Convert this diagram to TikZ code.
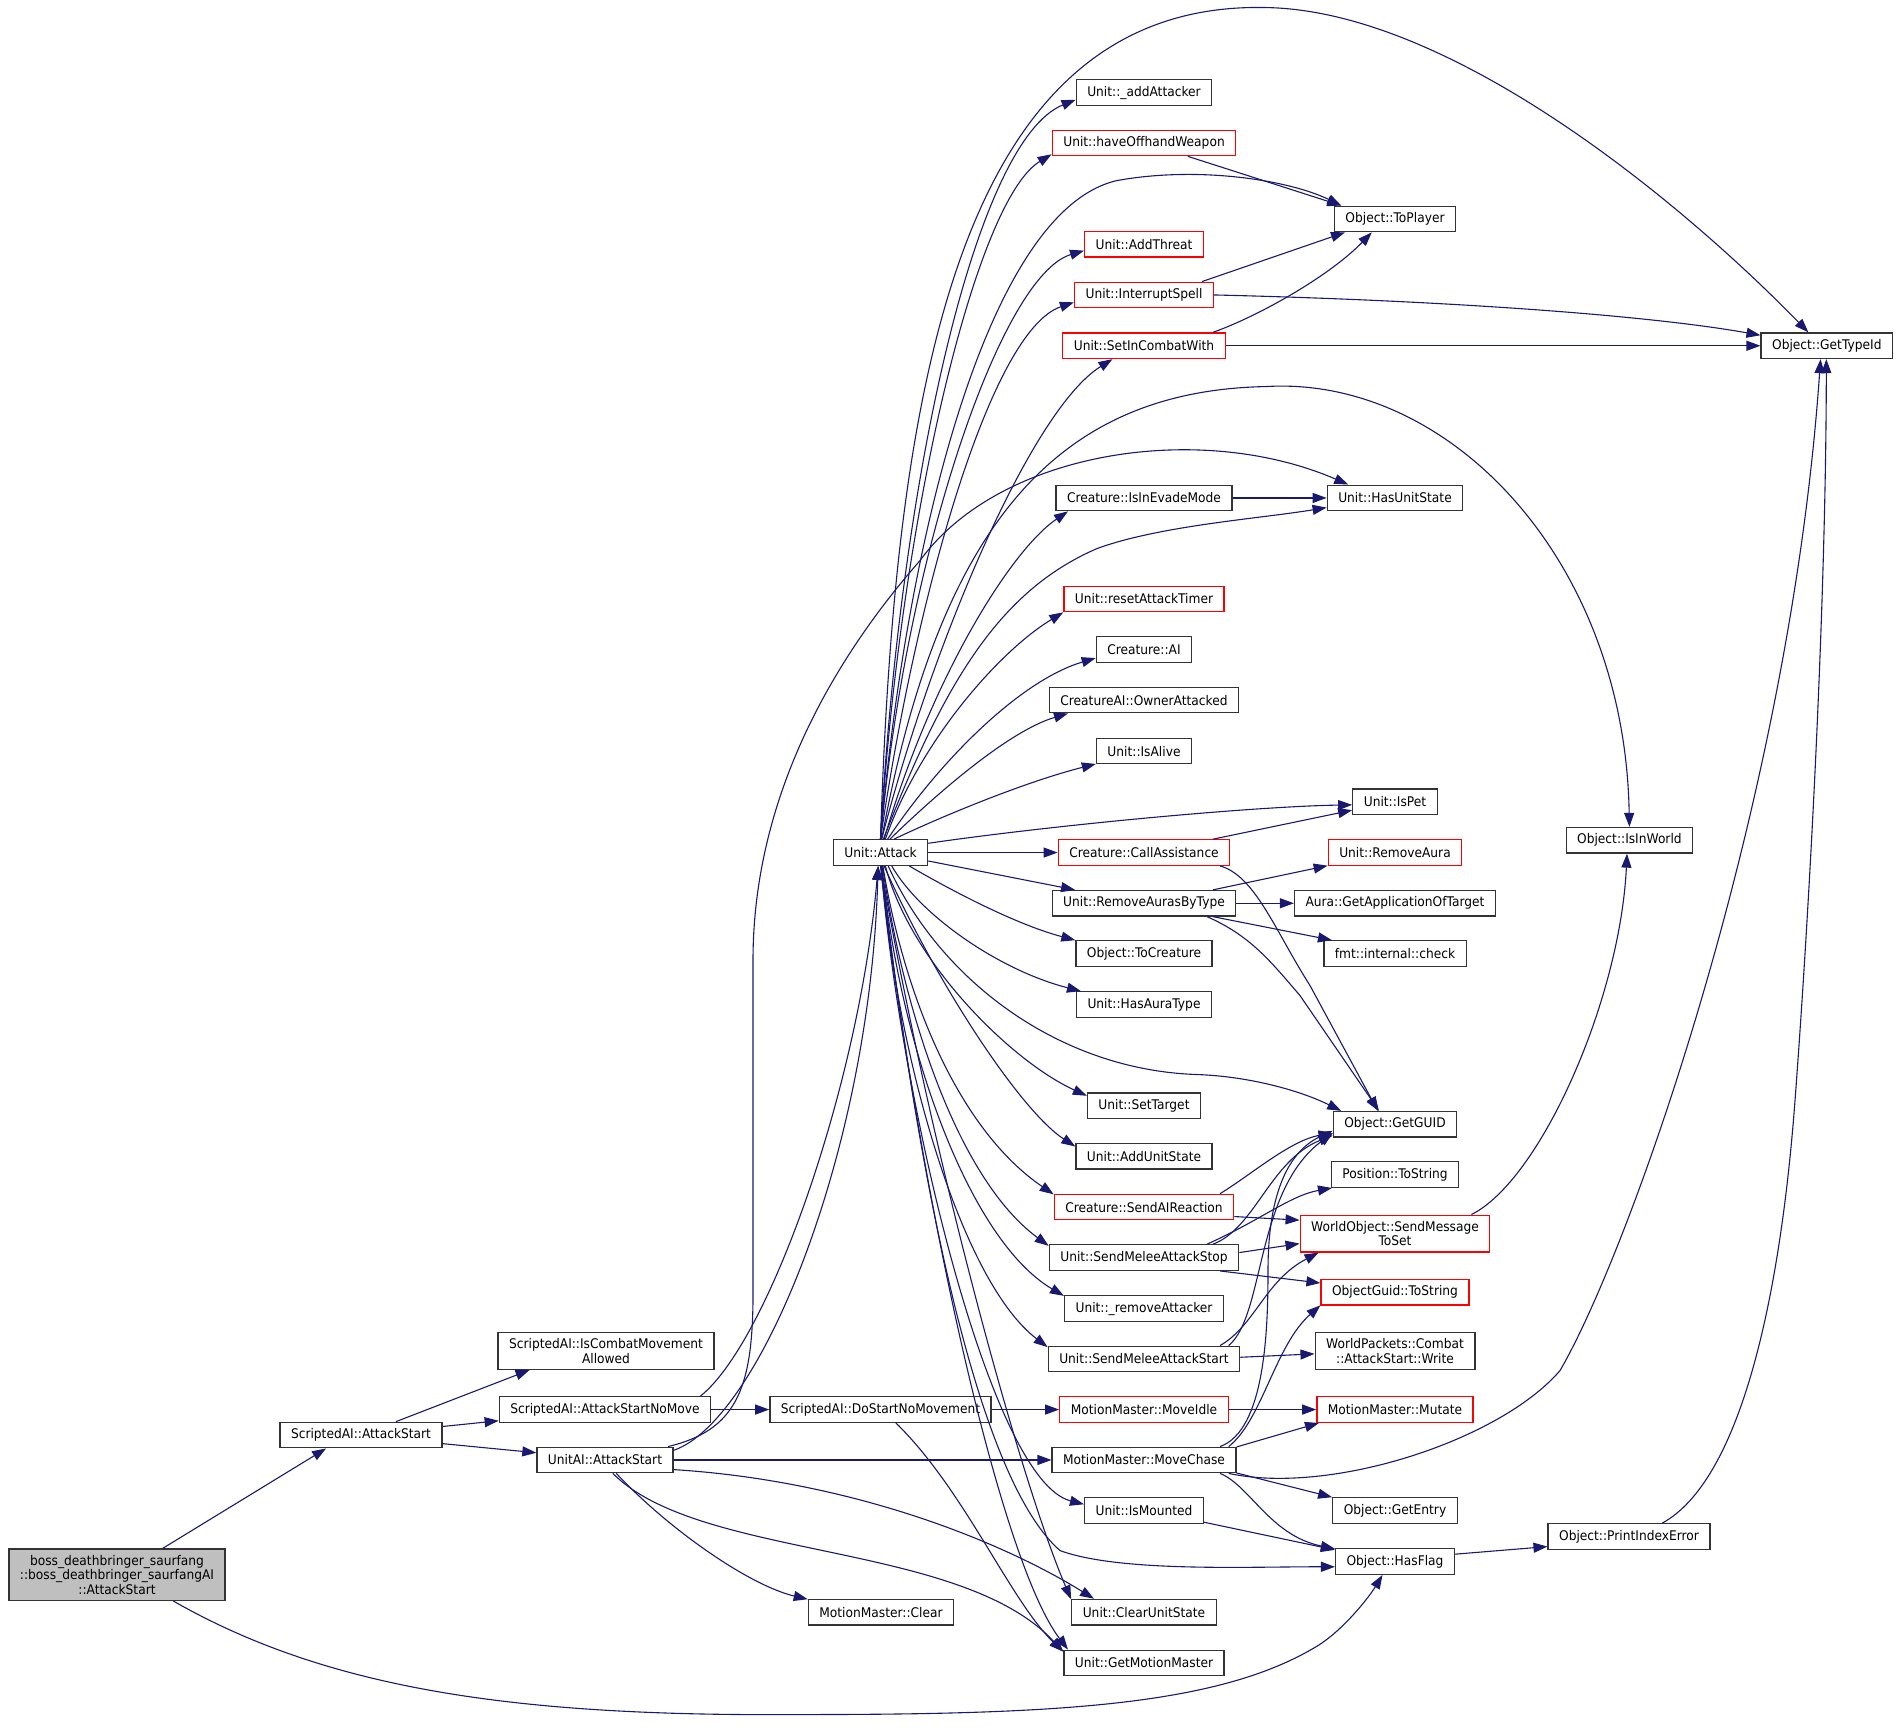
\documentclass[tikz,border=0pt]{standalone}
\usepackage{fontspec}
\setmainfont{DejaVu Sans}[FakeStretch=0.92]
\usepackage{tikz}
\usetikzlibrary{arrows.meta,positioning,calc}
\definecolor{edgeblue}{HTML}{191970}
\definecolor{rootgray}{HTML}{BFBFBF}

\begin{document}
\begin{tikzpicture}[x=1pt,y=-1pt,
    >={Triangle[length=14pt,width=10pt]},
    fnbox/.style={draw=black!80, line width=1.3pt, rectangle, inner xsep=11pt, inner ysep=6pt,
      minimum height=25.5pt, align=center, font=\fontsize{13.3}{14.5}\selectfont},
    fnred/.style={fnbox, draw=red},
    fnroot/.style={fnbox, fill=rootgray},
    calls/.style={->, draw=edgeblue, line width=1.1pt}]
    \fill[white] (0,0) rectangle (1899,1729);
    % callers on the left
    \node[fnroot] (root) at (117,1574.2) {boss\_deathbringer\_saurfang\\::boss\_deathbringer\_saurfangAI\\::AttackStart};
    \node[fnbox] (sAS) at (361,1434.5) {ScriptedAI::AttackStart};
    \node[fnbox] (sICM) at (606,1350.4) {ScriptedAI::IsCombatMovement\\Allowed};
    \node[fnbox] (sASNM) at (605,1409) {ScriptedAI::AttackStartNoMove};
    \node[fnbox] (uAS) at (605,1459.4) {UnitAI::AttackStart};
    \node[fnbox] (atk) at (880.5,852) {Unit::Attack};
    \node[fnbox] (dsnm) at (880.5,1409) {ScriptedAI::DoStartNoMovement};
    \node[fnbox] (mmClr) at (881,1611.6) {MotionMaster::Clear};
    % middle column
    \node[fnbox] (addAtt) at (1144,92) {Unit::\_addAttacker};
    \node[fnred] (offhand) at (1144,142.4) {Unit::haveOffhandWeapon};
    \node[fnred] (threat) at (1144,243.8) {Unit::AddThreat};
    \node[fnred] (intSp) at (1144,294.4) {Unit::InterruptSpell};
    \node[fnred] (combat) at (1144,345.2) {Unit::SetInCombatWith};
    \node[fnbox] (evade) at (1144,497.4) {Creature::IsInEvadeMode};
    \node[fnred] (resetAT) at (1144,598.4) {Unit::resetAttackTimer};
    \node[fnbox] (creAI) at (1144,649) {Creature::AI};
    \node[fnbox] (owner) at (1144,699.5) {CreatureAI::OwnerAttacked};
    \node[fnbox] (alive) at (1144,750.5) {Unit::IsAlive};
    \node[fnred] (callAs) at (1144,852) {Creature::CallAssistance};
    \node[fnbox] (remABT) at (1144,902.7) {Unit::RemoveAurasByType};
    \node[fnbox] (toCre) at (1144,953) {Object::ToCreature};
    \node[fnbox] (hasAura) at (1144,1004) {Unit::HasAuraType};
    \node[fnbox] (setTgt) at (1144,1105.3) {Unit::SetTarget};
    \node[fnbox] (addUS) at (1144,1155.6) {Unit::AddUnitState};
    \node[fnred] (aiReact) at (1144,1206.5) {Creature::SendAIReaction};
    \node[fnbox] (mStop) at (1144,1257) {Unit::SendMeleeAttackStop};
    \node[fnbox] (remAtt) at (1144,1308) {Unit::\_removeAttacker};
    \node[fnbox] (mStart) at (1144,1358.4) {Unit::SendMeleeAttackStart};
    \node[fnred] (mvIdle) at (1144,1409) {MotionMaster::MoveIdle};
    \node[fnbox] (mvChase) at (1144,1459.4) {MotionMaster::MoveChase};
    \node[fnbox] (mounted) at (1144,1510) {Unit::IsMounted};
    \node[fnbox] (clrUS) at (1144,1611.6) {Unit::ClearUnitState};
    \node[fnbox] (getMM) at (1144,1662.4) {Unit::GetMotionMaster};
    % right columns
    \node[fnbox] (toPl) at (1395,218.4) {Object::ToPlayer};
    \node[fnbox] (hasUS) at (1395,497.4) {Unit::HasUnitState};
    \node[fnbox] (isPet) at (1395,801.3) {Unit::IsPet};
    \node[fnred] (remAura) at (1395,852) {Unit::RemoveAura};
    \node[fnbox] (getApp) at (1395,902.7) {Aura::GetApplicationOfTarget};
    \node[fnbox] (fmtChk) at (1395,953) {fmt::internal::check};
    \node[fnbox] (guid) at (1395,1123.7) {Object::GetGUID};
    \node[fnbox] (posStr) at (1395,1174) {Position::ToString};
    \node[fnred] (msgSet) at (1395,1233) {WorldObject::SendMessage\\ToSet};
    \node[fnred] (guidStr) at (1395,1291.6) {ObjectGuid::ToString};
    \node[fnbox] (wpWrite) at (1395,1350.5) {WorldPackets::Combat\\::AttackStart::Write};
    \node[fnred] (mutate) at (1395,1409) {MotionMaster::Mutate};
    \node[fnbox] (entry) at (1395,1510) {Object::GetEntry};
    \node[fnbox] (hasFlag) at (1395,1561) {Object::HasFlag};
    \node[fnbox] (inWorld) at (1629.4,839.7) {Object::IsInWorld};
    \node[fnbox] (pie) at (1629,1536) {Object::PrintIndexError};
    \node[fnbox] (typeId) at (1826.8,345.2) {Object::GetTypeId};

    % root and scripted AI
    \draw[calls] (root.30) -- (sAS.201);
    \draw[calls] (root.-25) .. controls (330,1690) and (520,1716) .. (800,1714)
      .. controls (1060,1714) and (1220,1705) .. (1318,1645)
      .. controls (1345,1628) and (1370,1595) .. (hasFlag.227);
    \draw[calls] (sAS.21) -- (sICM.194);
    \draw[calls] (sAS.6) -- (sASNM.186);
    \draw[calls] (sAS.-6) -- (uAS.174);
    \draw[calls] (sASNM.east) -- (dsnm.west);
    \draw[calls] (sASNM.8) .. controls (770,1340) and (860,1080) .. (atk.-100);
    \draw[calls] (uAS.8) .. controls (760,1420) and (870,1150) .. (atk.-100);
    \draw[calls] (uAS.12) .. controls (735,1430) and (752,1390) .. (753,1300) -- (753,960)
      .. controls (753,780) and (850,640) .. (920,560)
      .. controls (1000,450) and (1200,420) .. (hasUS.164);
    \draw[calls] (uAS.east) -- (mvChase.west);
    \draw[calls] (uAS.-8) .. controls (850,1480) and (1000,1540) .. (clrUS.165);
    \draw[calls] (uAS.-60) .. controls (700,1560) and (960,1540) .. (getMM.172);
    \draw[calls] (uAS.-50) .. controls (670,1530) and (750,1585) .. (mmClr.170);
    \draw[calls] (dsnm.east) -- (mvIdle.west);
    \draw[calls] (dsnm.-41) .. controls (965,1490) and (1010,1600) .. (getMM.172);

    % Unit::Attack, upwards
    \draw[calls] (atk.north) .. controls (895,380) and (960,0) .. (1266,7)
      .. controls (1450,10) and (1680,200) .. (typeId.144);
    \draw[calls] (atk.north) .. controls (900,480) and (975,140) .. (addAtt.186);
    \draw[calls] (atk.north) .. controls (900,520) and (975,200) .. (offhand.187);
    \draw[calls] (atk.north) .. controls (905,550) and (985,210) .. (1117,180)
      .. controls (1200,165) and (1290,180) .. (toPl.166);
    \draw[calls] (atk.north) .. controls (905,560) and (1000,275) .. (threat.186);
    \draw[calls] (atk.north) .. controls (915,600) and (990,330) .. (intSp.186);
    \draw[calls] (atk.85) .. controls (930,650) and (1030,410) .. (combat.203);
    \draw[calls] (atk.85) .. controls (940,520) and (1060,390) .. (1266,386)
      .. controls (1450,375) and (1625,560) .. (inWorld.north);
    \draw[calls] (atk.75) .. controls (930,680) and (1010,550) .. (evade.190);
    \draw[calls] (atk.78) .. controls (945,680) and (1000,590) .. (1097,548)
      .. controls (1160,525) and (1260,518) .. (hasUS.188);
    \draw[calls] (atk.70) .. controls (920,740) and (1000,650) .. (resetAT.south west);
    \draw[calls] (atk.62) .. controls (940,760) and (1020,680) .. (creAI.190);
    \draw[calls] (atk.55) .. controls (940,790) and (1010,730) .. (owner.190);
    \draw[calls] (atk.45) .. controls (950,812) and (1030,780) .. (alive.195);
    \draw[calls] (atk.11) .. controls (1050,825) and (1250,806) .. (isPet.184);
    \draw[calls] (atk.east) -- (callAs.west);
    % Unit::Attack, downwards
    \draw[calls] (atk.-10) -- (remABT.169);
    \draw[calls] (atk.-25) .. controls (960,895) and (1020,925) .. (toCre.169);
    \draw[calls] (atk.-50) .. controls (920,915) and (1000,970) .. (hasAura.168);
    \draw[calls] (atk.-60) .. controls (940,980) and (1060,1070) .. (1198,1074)
      .. controls (1250,1076) and (1300,1090) .. (guid.166);
    \draw[calls] (atk.-70) .. controls (910,960) and (1010,1060) .. (setTgt.170);
    \draw[calls] (atk.-75) .. controls (935,980) and (1020,1110) .. (addUS.172);
    \draw[calls] (atk.-80) .. controls (905,1000) and (960,1130) .. (aiReact.172);
    \draw[calls] (atk.-82) .. controls (905,1020) and (960,1180) .. (mStop.173);
    \draw[calls] (atk.-84) .. controls (900,1050) and (970,1240) .. (remAtt.171);
    \draw[calls] (atk.-86) .. controls (895,1050) and (960,1280) .. (mStart.173);
    \draw[calls] (atk.-88) .. controls (900,1100) and (990,1480) .. (mounted.174);
    \draw[calls] (atk.-87) .. controls (920,1200) and (980,1480) .. (1060,1550)
      .. controls (1120,1572) and (1250,1566) .. (hasFlag.185);
    \draw[calls] (atk.-89) .. controls (930,1150) and (1020,1480) .. (clrUS.170);
    \draw[calls] (atk.-90) .. controls (920,1200) and (1000,1560) .. (getMM.170);

    % middle column to the right
    \draw[calls] (offhand.-17) -- (toPl.166);
    \draw[calls] (intSp.13) -- (toPl.195);
    \draw[calls] (intSp.east) .. controls (1450,300) and (1650,315) .. (typeId.171);
    \draw[calls] (combat.11) .. controls (1260,315) and (1330,275) .. (toPl.210);
    \draw[calls] (combat.east) -- (typeId.west);
    \draw[calls] (evade.east) -- (hasUS.west);
    \draw[calls] (callAs.11) -- (isPet.191);
    \draw[calls] (callAs.-10) .. controls (1255,875) and (1275,930) .. (1310,985) -- (guid.142);
    \draw[calls] (remABT.11) -- (remAura.191);
    \draw[calls] (remABT.east) -- (getApp.west);
    \draw[calls] (remABT.-11) -- (fmtChk.168);
    \draw[calls] (remABT.-12) .. controls (1250,935) and (1270,960) .. (1300,995) -- (guid.140);
    \draw[calls] (aiReact.10) .. controls (1250,1175) and (1290,1140) .. (guid.188);
    \draw[calls] (aiReact.-6) -- (msgSet.172);
    \draw[calls] (mStop.11) .. controls (1255,1228) and (1270,1160) .. (guid.190);
    \draw[calls] (mStop.12) .. controls (1260,1220) and (1290,1195) .. (posStr.192);
    \draw[calls] (mStop.3) -- (msgSet.186);
    \draw[calls] (mStop.-10) -- (guidStr.173);
    \draw[calls] (mStart.9) .. controls (1265,1315) and (1255,1190) .. (guid.188);
    \draw[calls] (mStart.10) .. controls (1255,1325) and (1265,1280) .. (msgSet.194);
    \draw[calls] (mStart.1) -- (wpWrite.182);
    \draw[calls] (mvIdle.east) -- (mutate.west);
    \draw[calls] (mvChase.8) -- (mutate.190);
    \draw[calls] (mvChase.10) .. controls (1265,1430) and (1268,1330) .. (1268,1270)
      .. controls (1268,1190) and (1290,1150) .. (guid.186);
    \draw[calls] (mvChase.9) .. controls (1262,1420) and (1275,1345) .. (guidStr.190);
    \draw[calls] (mvChase.-9) .. controls (1330,1495) and (1500,1440) .. (1560,1370)
      .. controls (1630,1250) and (1790,800) .. (typeId.-115);
    \draw[calls] (mvChase.-8) -- (entry.168);
    \draw[calls] (mvChase.-10) .. controls (1250,1485) and (1270,1535) .. (hasFlag.168);
    \draw[calls] (mounted.-11) -- (hasFlag.169);
    \draw[calls] (hasFlag.7) -- (pie.187);
    \draw[calls] (pie.22) .. controls (1740,1480) and (1780,1300) .. (1795,1100)
      .. controls (1810,900) and (1826,600) .. (typeId.-92);
    \draw[calls] (msgSet.14) .. controls (1540,1180) and (1620,1000) .. (inWorld.-100);
\end{tikzpicture}
\end{document}
